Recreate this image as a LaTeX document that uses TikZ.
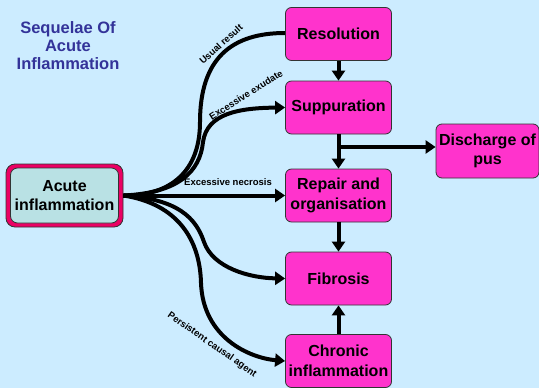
\documentclass[tikz,border=0pt]{standalone}
\usepackage{fontspec}
\setmainfont{Liberation Sans}
\usetikzlibrary{arrows.meta}
\definecolor{bg}{RGB}{204,236,255}
\definecolor{mag}{RGB}{255,51,204}
\definecolor{crim}{RGB}{235,0,100}
\definecolor{teal}{RGB}{185,225,228}
\definecolor{titleblue}{RGB}{51,51,153}
\tikzset{
  box/.style={rectangle, rounded corners=6pt, fill=mag, draw=black!80, line width=0.8pt,
    minimum width=106pt, minimum height=53pt, align=center, inner sep=1pt,
    font=\fontsize{16}{19.5}\selectfont\bfseries},
  conn/.style={line width=4pt, draw=black},
  tip/.style={-{Triangle[length=10pt,width=13pt]}},
  lab/.style={font=\fontsize{9.5}{10}\selectfont\bfseries, inner sep=0pt}
}
\begin{document}
\begin{tikzpicture}[x=1pt,y=-1pt]
\fill[bg] (0,0) rectangle (539,388);
\useasboundingbox (0,0) rectangle (539,388);

\node[align=center, text=titleblue, font=\fontsize{16.5}{18}\selectfont\bfseries] (title) at (68,45.5) {Sequelae Of\\Acute\\Inflammation};

\node[rectangle, rounded corners=9pt, fill=crim, draw=black!80, line width=0.8pt,
  minimum width=117pt, minimum height=63pt] (acuteframe) at (64.5,195.5) {};
\node[rectangle, rounded corners=7pt, fill=teal, draw=black!80, line width=0.8pt,
  minimum width=108pt, minimum height=55pt, align=center, inner sep=1pt,
  font=\fontsize{16}{19.5}\selectfont\bfseries] (acute) at (64.5,195.5) {Acute\\inflammation};

\node[box] (res) at (338.5,34) {Resolution};
\node[box] (sup) at (338.5,107.5) {Suppuration};
\node[box] (rep) at (338.5,195.5) {Repair and\\organisation};
\node[box] (fib) at (338.5,278.5) {Fibrosis};
\node[box] (chr) at (338.5,361) {Chronic\\inflammation};
\node[box, minimum width=103pt, minimum height=54pt] (dis) at (487.5,151) {Discharge of\\pus};

% curved connectors from acute inflammation
\draw[conn] (acuteframe.east) .. controls (170,196) and (200,172) .. (200,122) .. controls (200,58) and (232,33) .. (res.west |- 0,33);
\draw[conn, tip] (acuteframe.east) .. controls (178,193) and (200,172) .. (203,142) .. controls (207,113) and (240,108) .. (sup.west);
\draw[conn, tip] (acuteframe.east) -- (rep.west);
\draw[conn, tip] (acuteframe.east) .. controls (178,199) and (196,218) .. (204,242) .. controls (213,268) and (250,278) .. (fib.west);
\draw[conn, tip] (acuteframe.east) .. controls (178,204) and (200,240) .. (201,283) .. controls (203,338) and (250,358) .. (chr.west);

% vertical connectors
\draw[conn, tip] (res.south) -- (sup.north);
\draw[conn, tip] (sup.south) -- (rep.north);
\coordinate (br) at (338.5,147);
\draw[conn, tip] (br) -- (dis.west |- br);
\draw[conn, tip] (rep.south) -- (fib.north);
\draw[conn, tip] (chr.north) -- (fib.south);

% labels
\node[lab, rotate=42] (l1) at (221,44) {Usual result};
\node[lab, rotate=32] (l2) at (246,95) {Excessive exudate};
\node[lab] (l3) at (228,182) {Excessive necrosis};
\node[lab, rotate=-35] (l4) at (212,345) {Persistent causal agent};
\end{tikzpicture}
\end{document}
